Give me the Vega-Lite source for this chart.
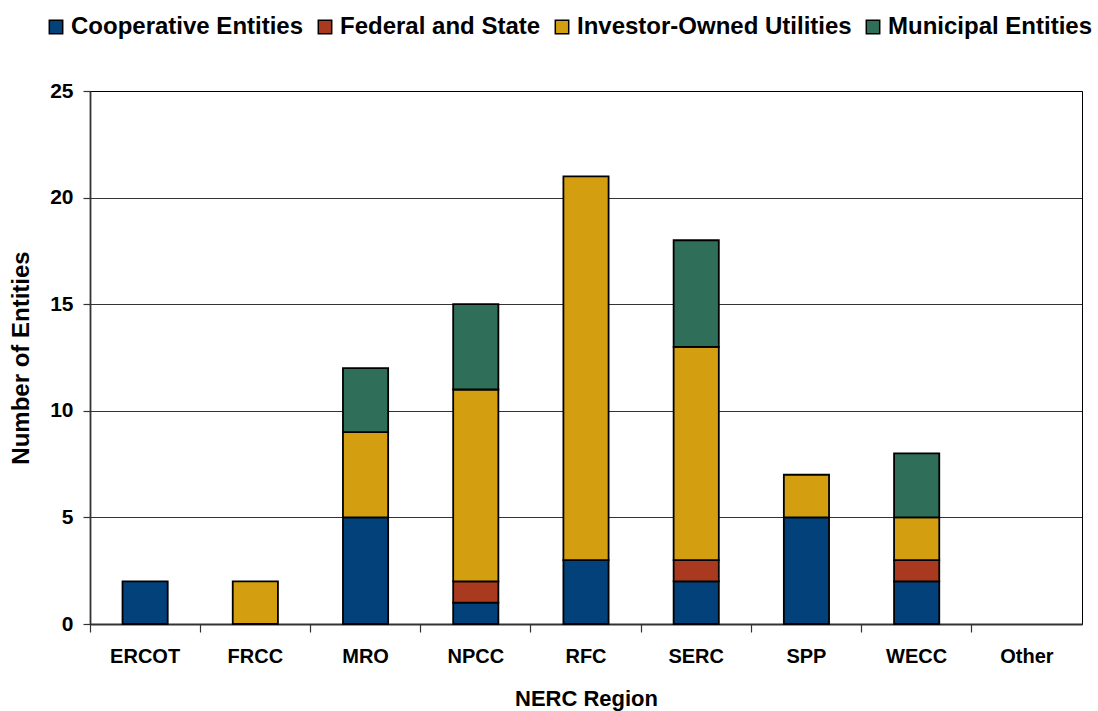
{
  "$schema": "https://vega.github.io/schema/vega-lite/v6.json",
  "width": 992,
  "height": 533,
  "autosize": {"type": "none"},
  "padding": {"left": 90, "top": 91, "right": 16, "bottom": 87},
  "background": "white",
  "config": {
    "font": "Liberation Sans",
    "view": {"stroke": "black", "strokeWidth": 1}
  },
  "data": {
    "values": [
      {"region": "ERCOT", "type": "Cooperative Entities", "count": 2},
      {"region": "FRCC", "type": "Investor-Owned Utilities", "count": 2},
      {"region": "MRO", "type": "Cooperative Entities", "count": 5},
      {"region": "MRO", "type": "Investor-Owned Utilities", "count": 4},
      {"region": "MRO", "type": "Municipal Entities", "count": 3},
      {"region": "NPCC", "type": "Cooperative Entities", "count": 1},
      {"region": "NPCC", "type": "Federal and State", "count": 1},
      {"region": "NPCC", "type": "Investor-Owned Utilities", "count": 9},
      {"region": "NPCC", "type": "Municipal Entities", "count": 4},
      {"region": "RFC", "type": "Cooperative Entities", "count": 3},
      {"region": "RFC", "type": "Investor-Owned Utilities", "count": 18},
      {"region": "SERC", "type": "Cooperative Entities", "count": 2},
      {"region": "SERC", "type": "Federal and State", "count": 1},
      {"region": "SERC", "type": "Investor-Owned Utilities", "count": 10},
      {"region": "SERC", "type": "Municipal Entities", "count": 5},
      {"region": "SPP", "type": "Cooperative Entities", "count": 5},
      {"region": "SPP", "type": "Investor-Owned Utilities", "count": 2},
      {"region": "WECC", "type": "Cooperative Entities", "count": 2},
      {"region": "WECC", "type": "Federal and State", "count": 1},
      {"region": "WECC", "type": "Investor-Owned Utilities", "count": 2},
      {"region": "WECC", "type": "Municipal Entities", "count": 3}
    ]
  },
  "mark": {"type": "bar", "stroke": "black", "strokeWidth": 1.8, "width": {"band": 0.41}},
  "encoding": {
    "x": {
      "field": "region",
      "type": "nominal",
      "scale": {
        "domain": ["ERCOT", "FRCC", "MRO", "NPCC", "RFC", "SERC", "SPP", "WECC", "Other"],
        "paddingInner": 0,
        "paddingOuter": 0
      },
      "axis": {
        "title": "NERC Region",
        "titleFontSize": 22,
        "titleFontWeight": "bold",
        "titleColor": "black",
        "titlePadding": 22,
        "labelFontSize": 20,
        "labelFontWeight": "bold",
        "labelColor": "black",
        "labelAngle": 0,
        "labelPadding": 14,
        "bandPosition": 0,
        "tickSize": 8,
        "tickColor": "#333",
        "tickWidth": 1.2,
        "domainColor": "#333",
        "domainWidth": 1.8
      }
    },
    "y": {
      "field": "count",
      "type": "quantitative",
      "aggregate": "sum",
      "stack": "zero",
      "scale": {"domain": [0, 25], "nice": false},
      "axis": {
        "title": "Number of Entities",
        "titleFontSize": 24,
        "titleFontWeight": "bold",
        "titleColor": "black",
        "titlePadding": 16,
        "labelFontSize": 21,
        "labelFontWeight": "bold",
        "labelColor": "black",
        "labelPadding": 10,
        "values": [0, 5, 10, 15, 20, 25],
        "tickSize": 7,
        "tickColor": "#333",
        "tickWidth": 1.2,
        "domainColor": "#333",
        "domainWidth": 1.8,
        "grid": true,
        "gridColor": "black",
        "gridWidth": 0.8
      }
    },
    "color": {
      "field": "type",
      "type": "nominal",
      "scale": {
        "domain": ["Cooperative Entities", "Federal and State", "Investor-Owned Utilities", "Municipal Entities"],
        "range": ["#02417A", "#A93A20", "#D39F10", "#2F6E58"]
      },
      "legend": {
        "title": null,
        "orient": "none",
        "direction": "horizontal",
        "legendX": -46,
        "legendY": -76,
        "symbolType": "square",
        "symbolSize": 180,
        "symbolStrokeColor": "black",
        "symbolStrokeWidth": 1.5,
        "labelFontSize": 24,
        "labelFontWeight": "bold",
        "labelColor": "black",
        "labelOffset": 3,
        "columnPadding": 9,
        "labelLimit": 500
      }
    },
    "order": {"field": "type", "sort": "ascending"}
  }
}
